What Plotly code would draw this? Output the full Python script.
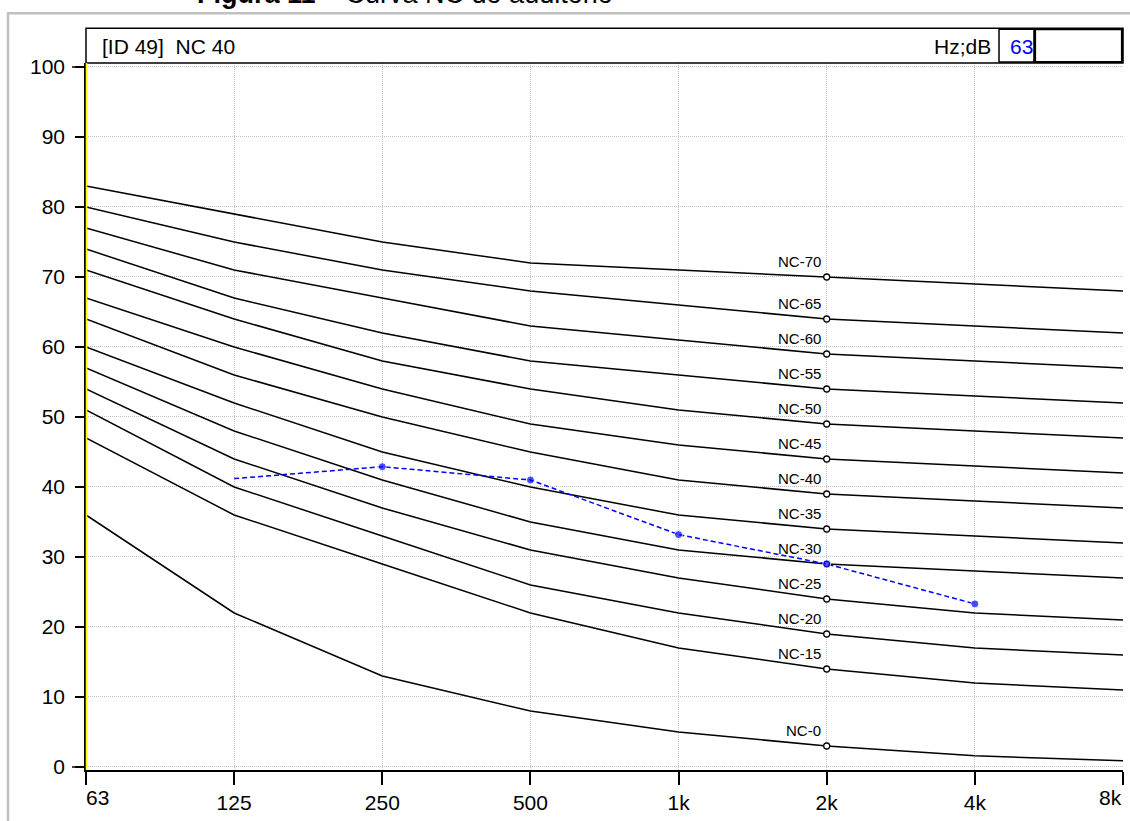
import plotly.graph_objects as go

# ---------------- data ----------------
freq_labels = ["63", "125", "250", "500", "1k", "2k", "4k", "8k"]

nc_names = ["NC-0", "NC-15", "NC-20", "NC-25", "NC-30", "NC-35", "NC-40",
            "NC-45", "NC-50", "NC-55", "NC-60", "NC-65", "NC-70"]
nc_0 = [36, 22, 13, 8, 5, 3, 1.6, 0.9]
nc_15 = [47, 36, 29, 22, 17, 14, 12, 11]
nc_20 = [51, 40, 33, 26, 22, 19, 17, 16]
nc_25 = [54, 44, 37, 31, 27, 24, 22, 21]
nc_30 = [57, 48, 41, 35, 31, 29, 28, 27]
nc_35 = [60, 52, 45, 40, 36, 34, 33, 32]
nc_40 = [64, 56, 50, 45, 41, 39, 38, 37]
nc_45 = [67, 60, 54, 49, 46, 44, 43, 42]
nc_50 = [71, 64, 58, 54, 51, 49, 48, 47]
nc_55 = [74, 67, 62, 58, 56, 54, 53, 52]
nc_60 = [77, 71, 67, 63, 61, 59, 58, 57]
nc_65 = [80, 75, 71, 68, 66, 64, 63, 62]
nc_70 = [83, 79, 75, 72, 71, 70, 69, 68]
nc_curves = [nc_0, nc_15, nc_20, nc_25, nc_30, nc_35, nc_40,
             nc_45, nc_50, nc_55, nc_60, nc_65, nc_70]

measured_labels = ["125", "250", "500", "1k", "2k", "4k"]
measured_db = [41.2, 42.9, 41.0, 33.2, 29.0, 23.3]
measured_marker = [0, 8, 8, 8, 8, 8]

y_ticks = [0, 10, 20, 30, 40, 50, 60, 70, 80, 90, 100]
label_band = "2k"

title_text = "<b>Figura 11</b> – Curva NC do auditório"
header_left = "[ID 49]\u00a0\u00a0NC 40"
header_unit = "Hz;dB"
header_value = "63"

# ---------------- figure ----------------
FONT = "Liberation Sans, Arial, sans-serif"
TXT = 21
W, H = 1130, 821
L, R, T, B = 86, 7, 63, 46
PW, PH = W - L - R, H - T - B


def px_x(p):
    return (p - L) / PW


def px_y(p):
    return (H - B - p) / PH


xi = list(range(len(freq_labels)))
idx = {f: i for i, f in enumerate(freq_labels)}

fig = go.Figure()

for name, vals in zip(nc_names, nc_curves):
    fig.add_trace(go.Scatter(x=xi, y=vals, mode="lines", name=name,
                             line=dict(color="black", width=1.5),
                             hoverinfo="skip", showlegend=False))

li = idx[label_band]
fig.add_trace(go.Scatter(
    x=[li] * len(nc_curves), y=[c[li] for c in nc_curves], mode="markers",
    marker=dict(symbol="circle", size=6, color="white",
                line=dict(color="black", width=1.3)),
    showlegend=False, hoverinfo="skip"))

fig.add_trace(go.Scatter(
    x=[idx[f] for f in measured_labels], y=measured_db, mode="lines+markers",
    line=dict(color="#0000ff", width=1.5, dash="5px,3px"),
    marker=dict(color="#0000ff", size=measured_marker),
    showlegend=False))

annotations = []
for name, vals in zip(nc_names, nc_curves):
    annotations.append(dict(
        x=li, y=vals[li], xref="x", yref="y", text=name, showarrow=False,
        xanchor="right", yanchor="middle", xshift=-4, yshift=15,
        font=dict(family=FONT, size=15, color="black")))

# end x labels (inside the plot edges)
annotations.append(dict(x=0, y=px_y(803), xref="x", yref="paper",
                        text=freq_labels[0], showarrow=False, xanchor="left",
                        yanchor="middle", xshift=-2,
                        font=dict(family=FONT, size=TXT, color="black")))
annotations.append(dict(x=len(freq_labels) - 1, y=px_y(803), xref="x",
                        yref="paper", text=freq_labels[-1], showarrow=False,
                        xanchor="right", yanchor="middle", xshift=1,
                        font=dict(family=FONT, size=TXT, color="black")))

# header texts
annotations.append(dict(x=px_x(100), y=px_y(46), xref="paper", yref="paper",
                        text=header_left, showarrow=False, xanchor="left",
                        yanchor="middle",
                        font=dict(family=FONT, size=TXT, color="black")))
annotations.append(dict(x=px_x(993), y=px_y(46), xref="paper", yref="paper",
                        text=header_unit, showarrow=False, xanchor="right",
                        yanchor="middle",
                        font=dict(family=FONT, size=TXT, color="black")))
annotations.append(dict(x=px_x(1008), y=px_y(46), xref="paper", yref="paper",
                        text=header_value, showarrow=False, xanchor="left",
                        yanchor="middle",
                        font=dict(family=FONT, size=TXT, color="#0000ff")))
# cut-off title (only its lower part is visible, as in the source)
annotations.append(dict(x=px_x(195), y=px_y(11), xref="paper", yref="paper",
                        text=title_text, showarrow=False, xanchor="left",
                        yanchor="bottom",
                        font=dict(family=FONT, size=27, color="black")))

shapes = [
    # outer gray frame
    dict(type="rect", xref="paper", yref="paper", x0=px_x(8), x1=px_x(1200),
         y0=px_y(900), y1=px_y(13), line=dict(color="#c0c0c0", width=2.5),
         layer="below"),
    # header box
    dict(type="rect", xref="paper", yref="paper", x0=px_x(86), x1=px_x(1123),
         y0=px_y(63), y1=px_y(28), line=dict(color="black", width=1.5)),
    dict(type="rect", xref="paper", yref="paper", x0=px_x(999), x1=px_x(1034),
         y0=px_y(62), y1=px_y(29), line=dict(color="black", width=1.5)),
    dict(type="rect", xref="paper", yref="paper", x0=px_x(1035), x1=px_x(1122),
         y0=px_y(62), y1=px_y(29), line=dict(color="black", width=2.2)),
    # yellow line at left
    dict(type="line", xref="paper", yref="paper", x0=px_x(86.5), x1=px_x(86.5),
         y0=0, y1=1, line=dict(color="#ffff00", width=1.6)),
    # longer ticks at 0 and 100
    dict(type="line", xref="paper", yref="y", x0=px_x(72), x1=px_x(85),
         y0=y_ticks[0], y1=y_ticks[0], line=dict(color="black", width=1.5)),
    dict(type="line", xref="paper", yref="y", x0=px_x(72), x1=px_x(85),
         y0=y_ticks[-1], y1=y_ticks[-1], line=dict(color="black", width=1.5)),
]

fig.update_layout(
    width=W, height=H,
    margin=dict(l=L, r=R, t=T, b=B, pad=0),
    paper_bgcolor="white", plot_bgcolor="white",
    font=dict(family=FONT, size=TXT, color="black"),
    showlegend=False,
    annotations=annotations,
    shapes=shapes,
    xaxis=dict(range=[0, len(freq_labels) - 1], tickmode="array",
               tickvals=xi,
               ticktext=[""] + freq_labels[1:-1] + [""],
               ticks="outside", ticklen=13, tickwidth=1.5, tickcolor="black",
               showline=True, linecolor="black", linewidth=1.5,
               showgrid=True, gridcolor="#c4c4c4", gridwidth=1,
               griddash="1px,1px", zeroline=False,
               tickfont=dict(family=FONT, size=TXT, color="black")),
    yaxis=dict(range=[-0.43, 100.57], tickmode="array", tickvals=y_ticks,
               ticktext=[str(v) for v in y_ticks],
               ticks="outside", ticklen=9, tickwidth=1.5, tickcolor="black",
               ticklabelstandoff=6,
               showline=True, linecolor="black", linewidth=1.5,
               showgrid=True, gridcolor="#c4c4c4", gridwidth=1,
               griddash="1px,1px", zeroline=False,
               tickfont=dict(family=FONT, size=TXT, color="black")),
)

fig.write_html(
    "out.html",
    config={"displayModeBar": False},
    post_script="document.body.style.margin='0';"
                "document.body.style.overflow='hidden';",
)
